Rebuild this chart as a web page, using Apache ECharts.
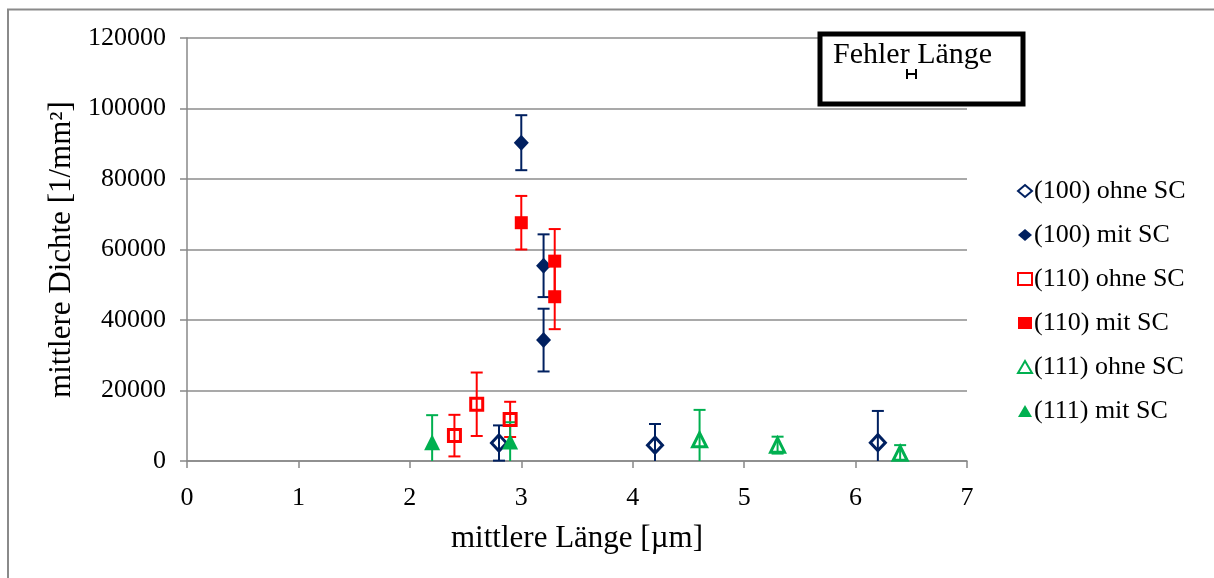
<!DOCTYPE html>
<html>
<head>
<meta charset="utf-8">
<script src="https://cdn.jsdelivr.net/npm/echarts@6/dist/echarts.min.js"></script>
<style>html,body{margin:0;padding:0;background:#fff;}#c{width:1214px;height:578px;}</style>
</head>
<body>
<div id="c"></div>
<script>
// Each point: [mittlere Länge (µm), mittlere Dichte (1/mm²), Fehler Dichte]
const seriesNames = ['(100) ohne SC', '(100) mit SC', '(110) ohne SC', '(110) mit SC', '(111) ohne SC', '(111) mit SC'];
const s100ohne = [[2.8, 5100, 5000], [4.2, 4500, 6000], [6.2, 5200, 9000]];
const s100mit  = [[3.0, 90300, 7800], [3.2, 55400, 8900], [3.2, 34300, 8900]];
const s110ohne = [[2.4, 7200, 5900], [2.6, 16100, 9000], [2.9, 11800, 5000]];
const s110mit  = [[3.0, 67600, 7600], [3.3, 56700, 9100], [3.3, 46600, 9200]];
const s111ohne = [[4.6, 6000, 8500], [5.3, 4500, 2400], [6.4, 2200, 2300]];
const s111mit  = [[2.2, 5300, 7700], [2.9, 5500, 5500]];
const xTicks = [0, 1, 2, 3, 4, 5, 6, 7];
const yTicks = [0, 20000, 40000, 60000, 80000, 100000, 120000];

const NAVY = '#002060', RED = '#FF0000', GREEN = '#00B050';
const FONT = 'Liberation Serif';
const groups = [
  {name: seriesNames[0], data: s100ohne, color: NAVY, symbol: 'diamond', size: [15, 16], hollow: true},
  {name: seriesNames[1], data: s100mit,  color: NAVY, symbol: 'diamond', size: [15, 16], hollow: false},
  {name: seriesNames[2], data: s110ohne, color: RED,   symbol: 'rect', size: [12, 12], hollow: true},
  {name: seriesNames[3], data: s110mit,  color: RED,   symbol: 'rect', size: [13, 13], hollow: false},
  {name: seriesNames[4], data: s111ohne, color: GREEN, symbol: 'triangle', size: [14, 14], hollow: true},
  {name: seriesNames[5], data: s111mit,  color: GREEN, symbol: 'triangle', size: [16, 16], hollow: false}
];

function errRender(color) {
  return function (params, api) {
    const x = api.value(0), y = api.value(1), e = api.value(2);
    const lo = Math.max(0, y - e), hi = y + e;
    const pHi = api.coord([x, hi]), pLo = api.coord([x, lo]);
    const cap = 6;
    const style = {stroke: color, lineWidth: 2};
    const children = [
      {type: 'line', shape: {x1: pHi[0], y1: pHi[1], x2: pLo[0], y2: pLo[1]}, style: style},
      {type: 'line', shape: {x1: pHi[0] - cap, y1: pHi[1], x2: pHi[0] + cap, y2: pHi[1]}, style: style}
    ];
    if (y - e > 0) {
      children.push({type: 'line', shape: {x1: pLo[0] - cap, y1: pLo[1], x2: pLo[0] + cap, y2: pLo[1]}, style: style});
    }
    return {type: 'group', children: children};
  };
}

const series = [];
groups.forEach(g => {
  series.push({
    type: 'custom', name: g.name + ' err', renderItem: errRender(g.color),
    data: g.data, z: 2, silent: true, clip: false,
    encode: {x: 0, y: 1}
  });
});
groups.forEach(g => {
  series.push({
    type: 'scatter', name: g.name, symbol: g.symbol, symbolSize: g.size,
    data: g.data.map(d => [d[0], d[1]]), z: 5,
    itemStyle: g.hollow ? {color: 'rgba(255,255,255,0)', borderColor: g.color, borderWidth: 3, opacity: 1}
                        : {color: g.color, borderColor: g.color, borderWidth: 0, opacity: 1}
  });
});

const chart = echarts.init(document.getElementById('c'), null, {renderer: 'canvas'});
chart.setOption({
  animation: false,
  backgroundColor: '#fff',
  textStyle: {fontFamily: FONT},
  grid: {left: 187, right: 247, top: 38, bottom: 117, containLabel: false},
  xAxis: {
    type: 'value', min: xTicks[0], max: xTicks[xTicks.length - 1], interval: 1,
    name: 'mittlere Länge [µm]', nameLocation: 'middle', nameGap: 62,
    nameTextStyle: {fontFamily: FONT, fontSize: 31, color: '#000'},
    axisLine: {show: true, lineStyle: {color: '#888', width: 1.5}},
    axisTick: {show: true, inside: false, length: 7, lineStyle: {color: '#888', width: 1.5}},
    axisLabel: {fontFamily: FONT, fontSize: 26, color: '#000', margin: 24},
    splitLine: {show: false}
  },
  yAxis: {
    type: 'value', min: yTicks[0], max: yTicks[yTicks.length - 1], interval: 20000,
    name: 'mittlere Dichte [1/mm²]', nameLocation: 'middle', nameGap: 97,
    nameTextStyle: {fontFamily: FONT, fontSize: 31, color: '#000'},
    axisLine: {show: true, lineStyle: {color: '#888', width: 1.5}},
    axisTick: {show: true, inside: false, length: 7, lineStyle: {color: '#888', width: 1.5}},
    axisLabel: {fontFamily: FONT, fontSize: 26, color: '#000', margin: 21, formatter: v => String(v)},
    splitLine: {show: true, lineStyle: {color: '#8c8c8c', width: 1.5}}
  },
  legend: {
    orient: 'vertical', left: 1012, top: 173,
    data: seriesNames,
    itemWidth: 14, itemHeight: 12, itemGap: 18,
    textStyle: {fontFamily: FONT, fontSize: 26, color: '#000', lineHeight: 26, padding: [0, 0, 0, -3]},
    selectedMode: false
  },
  graphic: [
    {type: 'polyline', shape: {points: [[8, 578], [8, 9.5], [1214, 9.5]]}, style: {stroke: '#8a8a8a', lineWidth: 2, fill: null}, silent: true},
    {type: 'rect', shape: {x: 820, y: 34, width: 203, height: 70}, style: {fill: '#fff', stroke: '#000', lineWidth: 5}, z: 10},
    {type: 'text', left: 833, top: 40, style: {text: 'Fehler Länge', font: '30px "Liberation Serif"', fill: '#000'}, z: 11},
    {type: 'line', shape: {x1: 907, y1: 74, x2: 916, y2: 74}, style: {stroke: '#000', lineWidth: 2}, z: 11},
    {type: 'line', shape: {x1: 907, y1: 69, x2: 907, y2: 79}, style: {stroke: '#000', lineWidth: 2}, z: 11},
    {type: 'line', shape: {x1: 916, y1: 69, x2: 916, y2: 79}, style: {stroke: '#000', lineWidth: 2}, z: 11}
  ],
  series: series
});
</script>
</body>
</html>
